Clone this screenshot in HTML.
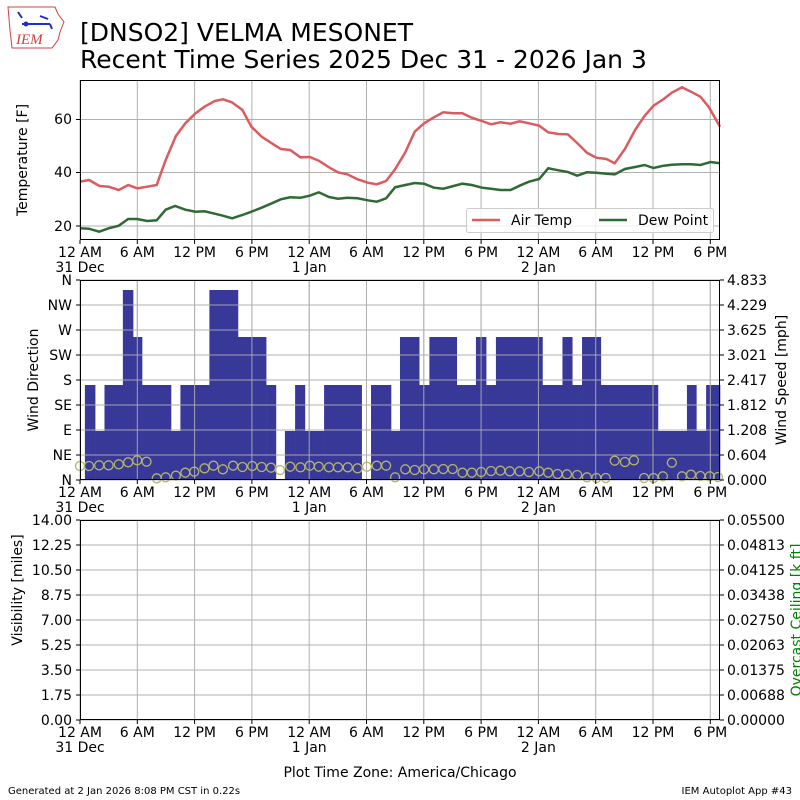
<!DOCTYPE html>
<html><head><meta charset="utf-8"><style>
body{margin:0;background:#fff}
svg{display:block;font-family:"DejaVu Sans","Liberation Sans",sans-serif}
</style></head><body>
<svg id="s" width="800" height="800" xmlns="http://www.w3.org/2000/svg">
<rect width="800" height="800" fill="#fff"/>
<path d="M8 7 L55 7 L58 14 L64 22 L60 32 L58 40 L52 48 L12 48 L10 30 Z" fill="none" stroke="#d04040" stroke-width="1"/>
<line x1="22" y1="24" x2="50" y2="24" stroke="#2030c0" stroke-width="2"/>
<circle cx="26" cy="24" r="2.5" fill="#2030c0"/>
<path d="M40 16 L48 19 M50 24 L52 29 M18 12 L22 18" stroke="#2030c0" stroke-width="2"/>
<text x="16" y="44" font-family="Liberation Serif,serif" font-style="italic" font-size="15" fill="#d04040">IEM</text>
<text x="80" y="41" font-size="25">[DNSO2] VELMA MESONET</text>
<text x="80" y="68" font-size="25">Recent Time Series 2025 Dec 31 - 2026 Jan 3</text>
<g id="grid" stroke="#b0b0b0" stroke-width="1"></g>
<g id="data"></g>
<g fill="none" stroke="#000" stroke-width="1">
<rect x="80.5" y="80.5" width="639" height="159"/>
<rect x="80.5" y="280.5" width="639" height="199"/>
<rect x="80.5" y="520.5" width="639" height="199"/>
</g>
<g id="ticks" stroke="#000"></g>
<g font-size="14" text-anchor="end">
<text x="72" y="124">60</text><text x="72" y="177">40</text><text x="72" y="231">20</text>
<text x="72" y="285">N</text><text x="72" y="310">NW</text><text x="72" y="335">W</text><text x="72" y="360">SW</text><text x="72" y="385">S</text><text x="72" y="410">SE</text><text x="72" y="435">E</text><text x="72" y="460">NE</text><text x="72" y="485">N</text>
<text x="72" y="525">14.00</text><text x="72" y="550">12.25</text><text x="72" y="575">10.50</text><text x="72" y="600">8.75</text><text x="72" y="625">7.00</text><text x="72" y="650">5.25</text><text x="72" y="675">3.50</text><text x="72" y="700">1.75</text><text x="72" y="725">0.00</text>
</g>
<g font-size="14" text-anchor="start">
<text x="727" y="285">4.833</text><text x="727" y="310">4.229</text><text x="727" y="335">3.625</text><text x="727" y="360">3.021</text><text x="727" y="385">2.417</text><text x="727" y="410">1.812</text><text x="727" y="435">1.208</text><text x="727" y="460">0.604</text><text x="727" y="485">0.000</text>
<text x="727" y="525">0.05500</text><text x="727" y="550">0.04813</text><text x="727" y="575">0.04125</text><text x="727" y="600">0.03438</text><text x="727" y="625">0.02750</text><text x="727" y="650">0.02063</text><text x="727" y="675">0.01375</text><text x="727" y="700">0.00688</text><text x="727" y="725">0.00000</text>
</g>
<g font-size="14" text-anchor="middle" id="xl"></g>
<g font-size="14" text-anchor="middle">
<text transform="translate(27,160) rotate(-90)">Temperature [F]</text>
<text transform="translate(38,380) rotate(-90)">Wind Direction</text>
<text transform="translate(786,380) rotate(-90)">Wind Speed [mph]</text>
<text transform="translate(22,590) rotate(-90)">Visibility [miles]</text>
<text transform="translate(801,620) rotate(-90)" fill="#008000">Overcast Ceiling [k ft]</text>
<text x="400" y="777">Plot Time Zone: America/Chicago</text>
</g>
<text x="8" y="794" font-size="10">Generated at 2 Jan 2026 8:08 PM CST in 0.22s</text>
<text x="792" y="794" font-size="10" text-anchor="end">IEM Autoplot App #43</text>
<rect x="466.5" y="208.5" width="247" height="24" rx="2" fill="#fff" fill-opacity="0.8" stroke="#ccc"/>
<line x1="472" y1="220" x2="500" y2="220" stroke="#dc5b60" stroke-width="2.5"/>
<text x="511" y="225" font-size="14">Air Temp</text>
<line x1="599" y1="220" x2="627" y2="220" stroke="#2f6a35" stroke-width="2.5"/>
<text x="638" y="225" font-size="14">Dew Point</text>
</svg>
<script>
const NS="http://www.w3.org/2000/svg";
function el(p,t,a){const e=document.createElementNS(NS,t);for(const k in a)e.setAttribute(k,a[k]);p.appendChild(e);return e;}
const g=document.getElementById('grid'),d=document.getElementById('data'),tk=document.getElementById('ticks'),xl=document.getElementById('xl');
const xs=[];for(let k=0;k<12;k++)xs.push(80+k*57.3);
const labs=["12 AM","6 AM","12 PM","6 PM","12 AM","6 AM","12 PM","6 PM","12 AM","6 AM","12 PM","6 PM"];
const sub={0:"31 Dec",4:"1 Jan",8:"2 Jan"};
[[80,240],[280,480],[520,720]].forEach(([t,b])=>{
 xs.forEach((x,i)=>{el(g,'line',{x1:x,x2:x,y1:t,y2:b});el(tk,'line',{x1:x,x2:x,y1:b,y2:b+4});
  const tx=el(xl,'text',{x:x,y:b+17});tx.textContent=labs[i];
  if(sub[i]){const s=el(xl,'text',{x:x,y:b+32});s.textContent=sub[i];}});
});
[119.5,172.5,226].forEach(y=>{el(g,'line',{x1:80,x2:720,y1:y,y2:y});el(tk,'line',{x1:76,x2:80,y1:y,y2:y});});
for(let i=0;i<9;i++){const y=280+i*25,y2=520+i*25;el(g,'line',{x1:80,x2:720,y1:y,y2:y});el(g,'line',{x1:80,x2:720,y1:y2,y2:y2});
 [y,y2].forEach(v=>{el(tk,'line',{x1:76,x2:80,y1:v,y2:v});el(tk,'line',{x1:720,x2:724,y1:v,y2:v});});}
const bars=[[12,37,385],[37,60,431],[60,105,385],[105,130,290],[130,152,337],[152,223,385],[223,246,431],[246,317,385],[317,387,290],[387,456,337],[456,480,385],[502,527,431],[527,551,385],[551,598,431],[598,690,385],[713,762,385],[762,784,431],[784,831,337],[831,856,385],[856,923,337],[923,970,385],[970,995,337],[995,1019,385],[1019,1133,337],[1133,1182,385],[1182,1206,337],[1206,1230,385],[1230,1276,337],[1276,1416,385],[1416,1487,431],[1487,1510,385],[1510,1534,431],[1534,1568,385]];
const bg=el(d,'g',{fill:'#383898'});
bars.forEach(([a,b,y])=>el(bg,'rect',{x:80+a/2.45,y:y,width:(b-a)/2.45+0.3,height:480-y}));
const g2=el(d,'g',{stroke:'#b0b0b0','stroke-opacity':0.9});
xs.forEach(x=>el(g2,'line',{x1:x,x2:x,y1:280,y2:480}));
for(let i=1;i<8;i++)el(g2,'line',{x1:80,x2:720,y1:280+i*25,y2:280+i*25});
const circ=[[0,558],[22,558],[47,556],[70,556],[95,553],[118,547],[140,541],[163,545],[188,595],[210,592],[235,587],[258,578],[280,575],[305,565],[327,557],[350,568],[375,557],[398,561],[422,558],[445,561],[468,563],[490,570],[515,560],[540,562],[563,557],[585,560],[610,562],[632,562],[656,562],[680,565],[703,560],[727,557],[750,557],[772,592],[797,568],[820,570],[843,568],[867,568],[890,567],[913,567],[937,578],[960,578],[983,576],[1007,573],[1030,572],[1053,574],[1077,574],[1100,576],[1125,574],[1147,578],[1170,582],[1193,583],[1218,585],[1242,592],[1265,594],[1288,594],[1310,542],[1335,546],[1357,541],[1382,594],[1405,594],[1428,589],[1450,548],[1475,589],[1497,584],[1520,588],[1543,589],[1563,591]];
const cg=el(d,'g',{fill:'none',stroke:'#b5b56a','stroke-width':1.3});
circ.forEach(([x,y])=>el(cg,'circle',{cx:80+x/2.45,cy:280+y/3,r:4.5}));
const air=[[0,320],[22,315],[48,333],[70,335],[95,345],[118,330],[140,340],[165,335],[188,330],[210,255],[235,183],[258,145],[283,115],[305,95],[330,78],[350,73],[372,82],[398,105],[420,155],[445,185],[470,205],[492,222],[515,225],[540,247],[563,246],[585,257],[610,277],[632,292],[655,298],[680,313],[705,323],[727,328],[750,318],[772,283],[797,232],[820,170],[843,145],[867,127],[890,112],[915,115],[937,115],[960,128],[985,138],[1007,148],[1030,142],[1055,146],[1077,139],[1100,145],[1125,152],[1147,172],[1172,177],[1195,178],[1218,204],[1242,233],[1265,248],[1290,252],[1310,265],[1335,222],[1360,165],[1383,123],[1405,92],[1430,72],[1450,53],[1475,37],[1497,50],[1520,65],[1540,95],[1568,155]];
const dew=[[0,460],[22,461],[47,470],[70,460],[95,452],[118,432],[140,432],[165,438],[188,436],[210,404],[233,393],[258,404],[283,410],[305,409],[330,416],[350,422],[373,430],[398,420],[420,410],[445,398],[470,385],[492,373],[515,367],[540,368],[563,362],[585,352],[610,366],[632,371],[655,368],[680,370],[705,376],[727,380],[750,370],[772,337],[797,330],[820,324],[843,326],[867,338],[890,341],[915,333],[937,326],[960,330],[985,338],[1007,341],[1030,345],[1055,345],[1077,332],[1100,320],[1125,312],[1147,280],[1172,286],[1195,291],[1218,302],[1242,292],[1265,293],[1290,296],[1310,298],[1335,282],[1360,276],[1383,270],[1405,279],[1430,272],[1450,269],[1475,268],[1497,268],[1520,270],[1545,261],[1568,265]];
const pts=a=>a.map(([x,y])=>(80+x/2.45).toFixed(1)+','+(75+y/3).toFixed(1)).join(' ');
el(d,'polyline',{points:pts(air),fill:'none',stroke:'#dc5b60','stroke-width':2.5});
el(d,'polyline',{points:pts(dew),fill:'none',stroke:'#2f6a35','stroke-width':2.5});
</script>
</body></html>
